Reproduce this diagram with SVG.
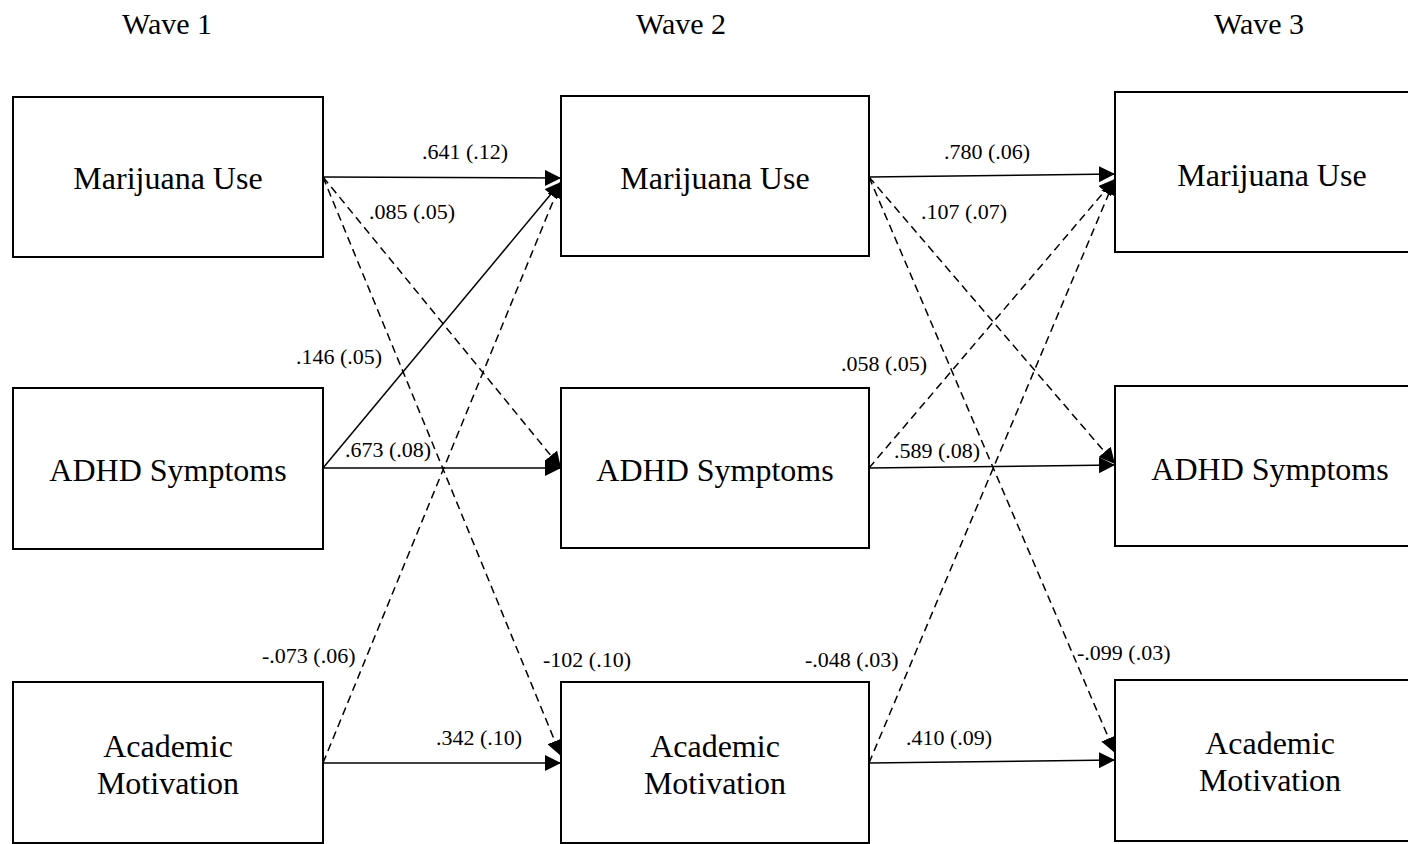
<svg xmlns="http://www.w3.org/2000/svg" width="1408" height="844" viewBox="0 0 1408 844">
<style>
.box{fill:#fff;stroke:#000;stroke-width:2}
.nt{font-family:"Liberation Serif","Times New Roman",serif;font-size:32px;fill:#000;text-anchor:middle}
.wv{font-family:"Liberation Serif","Times New Roman",serif;font-size:30px;fill:#000;text-anchor:middle}
.lb{font-family:"Liberation Serif","Times New Roman",serif;font-size:22px;fill:#000}
.e{fill:none;stroke:#000;stroke-width:1.5;marker-end:url(#ah)}
.d{stroke-dasharray:8,5}
</style>
<defs>
<marker id="ah" markerUnits="userSpaceOnUse" viewBox="0 0 16 16" refX="16" refY="8" markerWidth="16" markerHeight="16" orient="auto">
<path d="M0,0 L16,8 L0,16 z" fill="#000"/>
</marker>
</defs>
<rect width="1408" height="844" fill="#fff"/>
<g id="wave-labels">
<text class="wv" x="167" y="34">Wave 1</text>
<text class="wv" x="681" y="34">Wave 2</text>
<text class="wv" x="1259" y="34">Wave 3</text>
</g>
<g id="connectors">
<line class="e" x1="323" y1="177" x2="561" y2="178"/>
<line class="e d" x1="323" y1="177" x2="561" y2="468"/>
<line class="e d" x1="323" y1="177" x2="561" y2="756"/>
<line class="e" x1="323" y1="468" x2="561" y2="182"/>
<line class="e" x1="323" y1="468" x2="561" y2="468"/>
<line class="e d" x1="323" y1="763" x2="561" y2="182"/>
<line class="e" x1="323" y1="763" x2="561" y2="763"/>
<line class="e" x1="869" y1="177" x2="1115" y2="174"/>
<line class="e d" x1="869" y1="177" x2="1115" y2="464"/>
<line class="e d" x1="869" y1="177" x2="1115" y2="753"/>
<line class="e d" x1="869" y1="468" x2="1115" y2="179"/>
<line class="e" x1="869" y1="468" x2="1115" y2="465"/>
<line class="e d" x1="869" y1="763" x2="1115" y2="179"/>
<line class="e" x1="869" y1="763" x2="1115" y2="760"/>
</g>
<g id="edge-labels">
<text class="lb" x="422" y="159">.641 (.12)</text>
<text class="lb" x="369" y="219">.085 (.05)</text>
<text class="lb" x="296" y="364">.146 (.05)</text>
<text class="lb" x="345" y="457">.673 (.08)</text>
<text class="lb" x="262" y="663">-.073 (.06)</text>
<text class="lb" x="543" y="667">-102 (.10)</text>
<text class="lb" x="436" y="745">.342 (.10)</text>
<text class="lb" x="944" y="159">.780 (.06)</text>
<text class="lb" x="921" y="219">.107 (.07)</text>
<text class="lb" x="841" y="371">.058 (.05)</text>
<text class="lb" x="894" y="458">.589 (.08)</text>
<text class="lb" x="805" y="667">-.048 (.03)</text>
<text class="lb" x="1077" y="660">-.099 (.03)</text>
<text class="lb" x="906" y="745">.410 (.09)</text>
</g>
<g id="w1-marijuana"><rect class="box" x="13" y="97" width="310" height="160"/><text class="nt" x="168" y="189">Marijuana Use</text></g>
<g id="w1-adhd"><rect class="box" x="13" y="388" width="310" height="161"/><text class="nt" x="168" y="481">ADHD Symptoms</text></g>
<g id="w1-academic"><rect class="box" x="13" y="682" width="310" height="161"/><text class="nt" x="168" y="757">Academic</text><text class="nt" x="168" y="794">Motivation</text></g>
<g id="w2-marijuana"><rect class="box" x="561" y="96" width="308" height="160"/><text class="nt" x="715" y="189">Marijuana Use</text></g>
<g id="w2-adhd"><rect class="box" x="561" y="388" width="308" height="160"/><text class="nt" x="715" y="481">ADHD Symptoms</text></g>
<g id="w2-academic"><rect class="box" x="561" y="682" width="308" height="161"/><text class="nt" x="715" y="757">Academic</text><text class="nt" x="715" y="794">Motivation</text></g>
<g id="w3-marijuana"><rect class="box" x="1115" y="92" width="313" height="160"/><text class="nt" x="1272" y="186">Marijuana Use</text></g>
<g id="w3-adhd"><rect class="box" x="1115" y="386" width="313" height="160"/><text class="nt" x="1270" y="480">ADHD Symptoms</text></g>
<g id="w3-academic"><rect class="box" x="1115" y="680" width="313" height="161"/><text class="nt" x="1270" y="754">Academic</text><text class="nt" x="1270" y="791">Motivation</text></g>
</svg>
